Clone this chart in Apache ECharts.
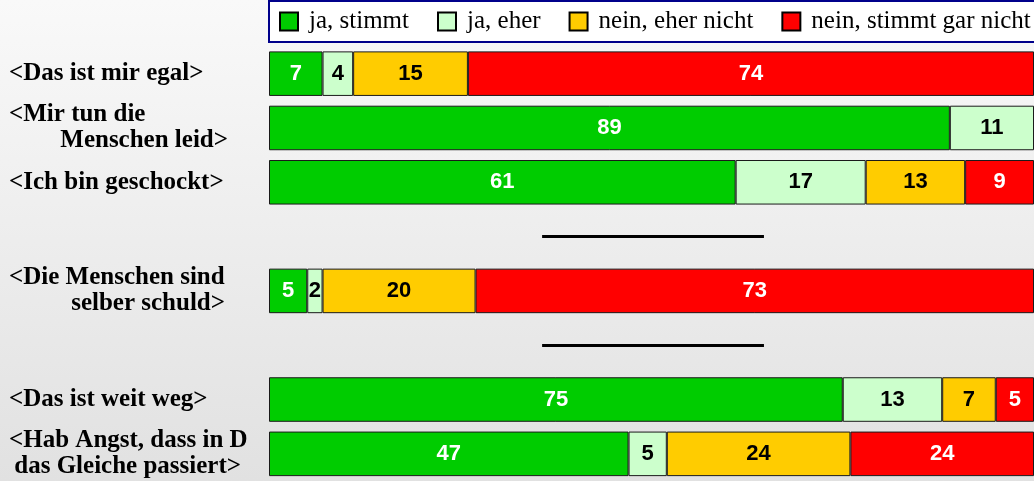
<!DOCTYPE html>
<html>
<head>
<meta charset="utf-8">
<script src="https://cdn.jsdelivr.net/npm/echarts@6/dist/echarts.min.js"></script>
<style>
  html, body { margin: 0; padding: 0; }
  #main { width: 1034px; height: 481px; }
</style>
</head>
<body>
<div id="main"></div>
<script>
// Zeilen von oben nach unten, 'sep1'/'sep2' sind die Trennlinien
var categories = [
  '<Das ist mir egal>',
  '<Mir tun die\nMenschen leid>',
  '<Ich bin geschockt>',
  'sep1',
  '<Die Menschen sind\nselber schuld>',
  'sep2',
  '<Das ist weit weg>',
  '<Hab Angst, dass in D\ndas Gleiche passiert>'
];
var seriesNames = ['ja, stimmt', 'ja, eher', 'nein, eher nicht', 'nein, stimmt gar nicht'];
var jaStimmt = [7, 89, 61, null, 5, null, 75, 47];
var jaEher = [4, 11, 17, null, 2, null, 13, 5];
var neinEher = [15, 0, 13, null, 20, null, 7, 24];
var neinGar = [74, 0, 9, null, 73, null, 5, 24];

var colors = ['#00cc00', '#ccffcc', '#ffcc00', '#ff0000'];
var labelColors = ['#fff', '#000', '#000', '#fff'];
// Einrueckung rechts fuer die zweite Zeile (px)
var secondLineRight = { 1: 13, 4: 16, 7: 0 };

var chart = echarts.init(document.getElementById('main'));

function makeSeries(idx, values) {
  return {
    name: seriesNames[idx],
    type: 'bar',
    stack: 'total',
    barCategoryGap: '18%',
    data: values.map(function (v) { return v ? v : '-'; }),
    itemStyle: { color: colors[idx], borderColor: '#1a1a1a', borderWidth: 1 },
    label: {
      show: true,
      position: 'inside',
      color: labelColors[idx],
      fontFamily: 'Liberation Sans',
      fontWeight: 'bold',
      fontSize: 22
    }
  };
}

var series = [
  makeSeries(0, jaStimmt),
  makeSeries(1, jaEher),
  makeSeries(2, neinEher),
  makeSeries(3, neinGar)
];

// Trennlinien zwischen den Gruppen
series[0].markLine = {
  silent: true,
  symbol: 'none',
  label: { show: false },
  lineStyle: { color: '#000', width: 3, type: 'solid' },
  data: [
    [{ coord: [35.7, 'sep1'] }, { coord: [64.7, 'sep1'] }],
    [{ coord: [35.7, 'sep2'] }, { coord: [64.7, 'sep2'] }]
  ]
};

var labelFont = {
  fontFamily: 'Liberation Serif', fontWeight: 'bold', fontSize: 25, lineHeight: 26, color: '#000'
};

var option = {
  backgroundColor: {
    type: 'linear', x: 0, y: 0, x2: 0, y2: 1,
    colorStops: [{ offset: 0, color: '#f9f9f9' }, { offset: 1, color: '#e1e1e1' }]
  },
  animation: false,
  legend: {
    data: seriesNames,
    left: 269,
    top: 1,
    width: 1000,
    icon: 'rect',
    itemWidth: 18,
    itemHeight: 18,
    itemGap: 28,
    padding: [8, 10],
    backgroundColor: '#fff',
    borderColor: '#00008b',
    borderWidth: 2,
    itemStyle: { borderColor: '#000', borderWidth: 2 },
    textStyle: {
      fontFamily: 'Liberation Serif',
      fontSize: 25,
      color: '#000',
      padding: [0, 0, 0, 6]
    }
  },
  grid: { left: 269, right: -2, top: 46.5, bottom: -5.5 },
  xAxis: { type: 'value', min: 0, max: 100, show: false },
  yAxis: {
    type: 'category',
    inverse: true,
    data: categories,
    axisLine: { show: false },
    axisTick: { show: false },
    axisLabel: {
      margin: 28,
      formatter: function (value, index) {
        if (value.indexOf('sep') === 0) return '';
        var lines = value.split('\n');
        if (lines.length === 1) return '{l|' + lines[0] + '}';
        var pad = secondLineRight[index] || 0;
        return '{l|' + lines[0] + '}\n{r' + pad + '|' + lines[1] + '}';
      },
      rich: {
        l: Object.assign({ width: 232, align: 'left' }, labelFont),
        r0: Object.assign({ width: 232, align: 'right' }, labelFont),
        r13: Object.assign({ width: 219, align: 'right', padding: [0, 13, 0, 0] }, labelFont),
        r16: Object.assign({ width: 216, align: 'right', padding: [0, 16, 0, 0] }, labelFont)
      }
    }
  },
  series: series
};

chart.setOption(option);
</script>
</body>
</html>
